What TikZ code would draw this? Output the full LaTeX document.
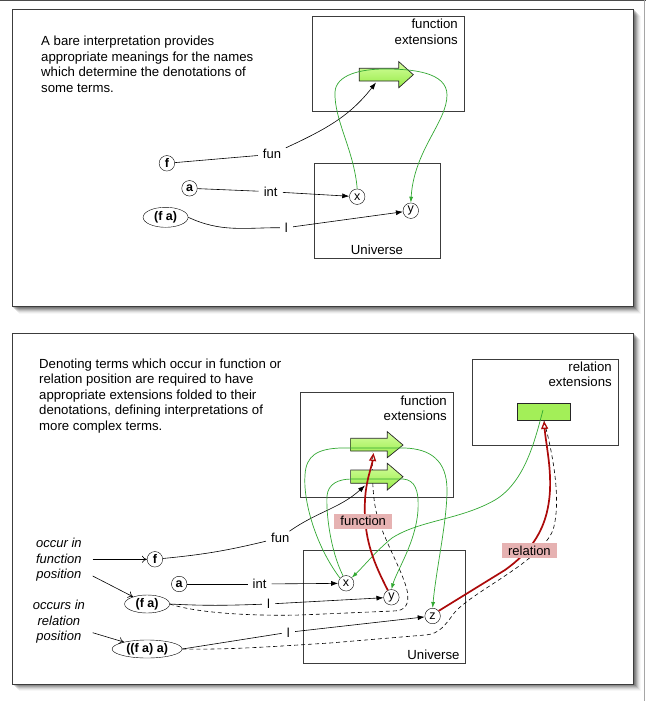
\documentclass[tikz,border=0pt]{standalone}
\usepackage{fontspec}
\setmainfont{Liberation Sans}
\usetikzlibrary{arrows.meta,shapes.geometric}
\definecolor{grnline}{RGB}{50,168,50}
\definecolor{darkred}{RGB}{172,10,10}
\definecolor{tagpink}{RGB}{230,178,178}
\definecolor{arrtop}{RGB}{214,255,160}
\definecolor{arrbot}{RGB}{150,235,70}
\definecolor{framegray}{RGB}{60,60,60}
\begin{document}
\begin{tikzpicture}[x=1pt,y=-1pt,
  txt/.style={font=\fontsize{13.2}{15.5}\selectfont, inner sep=0},
  frame/.style={draw=framegray, line width=0.9pt, fill=white},
  region/.style={draw=framegray, line width=0.8pt},
  term/.style={draw, circle, minimum size=15.5pt, inner sep=0, font=\fontsize{12.5}{13}\selectfont\bfseries},
  termell/.style={draw, ellipse, inner sep=0, font=\fontsize{12.5}{13}\selectfont\bfseries},
  elem/.style={draw, circle, minimum size=15.5pt, inner sep=0, font=\fontsize{12.5}{13}\selectfont},
  lab/.style={fill=white, inner xsep=5pt, inner ysep=1.5pt, font=\fontsize{13}{14}\selectfont},
  conn/.style={line width=0.6pt},
  blk/.style={conn, -{Latex[length=7pt,width=5pt]}},
  opn/.style={conn, -{To[length=5pt,width=7pt]}},
  grn/.style={draw=grnline, line width=0.7pt, -{Latex[length=6pt,width=4pt]}},
  redarr/.style={draw=darkred, line width=1.7pt, -{Triangle[open,length=8pt,width=7pt,line width=1.3pt]}},
  dsh/.style={conn, dashed, dash pattern=on 4pt off 3pt},
  tag/.style={fill=tagpink, inner xsep=6pt, inner ysep=1pt, minimum height=15pt, font=\fontsize{13}{14}\selectfont},
  fatarrow/.style={draw=black!85, line width=0.7pt, top color=arrtop, bottom color=arrbot}
]
\useasboundingbox (0,0) rectangle (646,701);
\fill[white] (0,0) rectangle (646,701);
\draw[black!70, line width=0.8pt] (0,0.4) -- (646,0.4);
\draw[black!35, line width=0.6pt] (644,0) -- (644,701);

% ---------- shadows and frames ----------
\foreach \s/\o in {1/0.15,2/0.15,3/0.13,4/0.1,5/0.08,6/0.05,7/0.03}{
  \fill[black, opacity=\o] (12.4+\s,9+\s) rectangle (633.7+\s,306.7+\s);
  \fill[black, opacity=\o] (12.4+\s,333.3+\s) rectangle (633.7+\s,684+\s);
}
\draw[frame] (12.4,9) rectangle (633.7,306.7);
\draw[frame] (12.4,333.3) rectangle (633.7,684);

% ================= TOP PANEL =================
\node[txt, anchor=north west, align=left] (desc1) at (41,36)
  {A bare interpretation provides\\appropriate meanings for the names\\which determine the denotations of\\some terms.};

\draw[region] (312,16.7) rectangle (464.8,111);
\node[txt, anchor=north east, align=right] (fext1) at (458,19) {function\\extensions};
\draw[region] (314.4,163.3) rectangle (440,258);
\node[txt] (univ1) at (377,250) {Universe};

\draw[fatarrow] (359.3,68.3) -- (398.8,68.3) -- (398.8,61.7) -- (413.3,74.7)
   -- (398.8,87.7) -- (398.8,81) -- (359.3,81) -- cycle;
\coordinate (tipA) at (376,82.5);

\node[term] (f1) at (166.9,163.3) {f};
\node[term] (a1) at (189.5,188.3) {a};
\node[termell, minimum width=45pt, minimum height=20pt] (fa1) at (165.6,217.3) {(f a)};
\node[elem] (x1) at (357.2,196.7) {x};
\node[elem] (y1) at (410.8,210.7) {y};

\node[lab] (fun1) at (272,154.3) {fun};
\node[lab] (int1) at (270.7,191.7) {int};
\node[lab] (l1) at (286.4,227.7) {l};

\draw[conn] (f1) -- (fun1);
\draw[blk] (fun1) to[out=25,in=232] (tipA);
\draw[conn] (a1) -- (int1);
\draw[blk] (int1) -- (x1);
\draw[conn] (fa1.east) to[out=-25,in=180] (l1);
\draw[blk] (l1) -- (y1);

\draw[grn] (x1.north) .. controls (354,150) and (334,120) .. (335,92)
  .. controls (336,75) and (360,69) .. (385,69)
  .. controls (412,69) and (447,72) .. (447,95)
  .. controls (447,122) and (414,150) .. (y1.north);

% ================= BOTTOM PANEL =================
\node[txt, anchor=north west, align=left] (desc2) at (39,358.3)
  {Denoting terms which occur in function or\\relation position are required to have\\appropriate extensions folded to their\\denotations, defining interpretations of\\more complex terms.};

\draw[region] (300.8,392.3) rectangle (453.2,497.7);
\node[txt, anchor=north east, align=right] (fext2) at (447,395.5) {function\\extensions};
\draw[region] (472.6,359) rectangle (618,445.7);
\node[txt, anchor=north east, align=right] (rext) at (611.9,361.5) {relation\\extensions};
\draw[region] (303.7,550) rectangle (465.6,663.3);
\node[txt] (univ2) at (433.5,655) {Universe};

\node[term] (f2) at (154.9,559.3) {f};
\node[term] (a2) at (179.2,584) {a};
\node[termell, minimum width=45pt, minimum height=18pt] (fa2) at (147.1,604) {(f a)};
\node[termell, minimum width=70pt, minimum height=18pt] (faa2) at (147.1,649) {((f a) a)};
\node[elem] (x2) at (346.1,583.3) {x};
\node[elem] (y2) at (391.4,597.3) {y};
\node[elem] (z2) at (432.6,616) {z};

\node[txt, align=center, font=\fontsize{13}{15.5}\selectfont\itshape] (occ1) at (58.9,560) {occur in\\function\\position};
\node[txt, align=center, font=\fontsize{13}{15.5}\selectfont\itshape] (occ2) at (58.9,622) {occurs in\\relation\\position};
\coordinate (o1a) at (92.7,559.3);
\coordinate (o1b) at (92.7,576);
\coordinate (o2a) at (92.7,632.7);
\draw[opn] (o1a) -- (f2);
\draw[opn] (o1b) -- (fa2);
\draw[opn] (o2a) -- (faa2);

% dashed links (under the extensions)
\draw[dsh] (fa2.east) .. controls (200,614) and (260,616) .. (300,615)
  -- (393,611) .. controls (405,611) and (410,605) .. (407,590)
  .. controls (402,570) and (384,540) .. (377,515)
  .. controls (373,500) and (372,480) .. (372.5,452);
\draw[dsh] (faa2.east) .. controls (230,650) and (280,646) .. (330,643)
  -- (425,635) .. controls (440,634) and (445,625) .. (455,612)
  .. controls (475,590) and (540,562) .. (553,530)
  .. controls (562,500) and (552,450) .. (544,421);

% extensions
\draw[fatarrow] (350.6,438.3) -- (387.3,438.3) -- (387.3,431.7) -- (403,445)
   -- (387.3,457.7) -- (387.3,451) -- (350.6,451) -- cycle;
\draw[fatarrow] (350.6,470) -- (387.3,470) -- (387.3,463.3) -- (403,476.7)
   -- (387.3,490) -- (387.3,483.3) -- (350.6,483.3) -- cycle;
\draw[draw=black!85, line width=0.7pt, fill=arrbot!80!arrtop] (517,403.3) rectangle (570.7,420);
\coordinate (tipB) at (365,485.5);
\coordinate (relsrc) at (543,410);

\node[lab] (fun2) at (280.2,537.7) {fun};
\node[lab] (int2) at (259.6,584) {int};
\node[lab] (l2) at (268.6,604) {l};
\node[lab] (l3) at (288.4,632.3) {l};

\draw[conn] (f2) to[bend right=4] (fun2);
\draw[blk] (fun2) to[out=35,in=222] (tipB);
\draw[conn] (a2) -- (int2);
\draw[blk] (int2) -- (x2);
\draw[conn] (fa2.east) to[out=-3,in=182] (l2);
\draw[blk] (l2) -- (y2);
\draw[conn] (faa2.east) -- (l3);
\draw[blk] (l3) -- (z2);

% green extension lines
\draw[grn] (x2.140) .. controls (315,545) and (303,500) .. (305,475)
  .. controls (306,455) and (318,449) .. (340,448) -- (405,448)
  .. controls (430,449) and (447,460) .. (447,490)
  .. controls (447,522) and (436,570) .. (z2.north);
\draw[grn] (x2.112) .. controls (330,550) and (326,512) .. (327,496)
  .. controls (328,484) and (338,479) .. (352,479) -- (403,479)
  .. controls (415,480) and (419,490) .. (418,510)
  .. controls (416,542) and (397,570) .. (y2.north);
\draw[grn] (relsrc) .. controls (535,440) and (525,482) .. (495,500)
  .. controls (460,520) and (420,520) .. (392,538)
  .. controls (377,550) and (364,566) .. (x2.45);

% red denotation-extension arrows
\draw[redarr] (y2.117) .. controls (375,565) and (363,540) .. (365,500)
  .. controls (366,480) and (372,466) .. (373.5,453);
\draw[redarr] (z2.40) -- (505,570) .. controls (530,552) and (548,530) .. (550,490)
  .. controls (551,465) and (546,445) .. (544,421);

\node[tag] (tfun) at (363.2,521.3) {function};
\node[tag] (trel) at (529.4,550.7) {relation};
\end{tikzpicture}
\end{document}
